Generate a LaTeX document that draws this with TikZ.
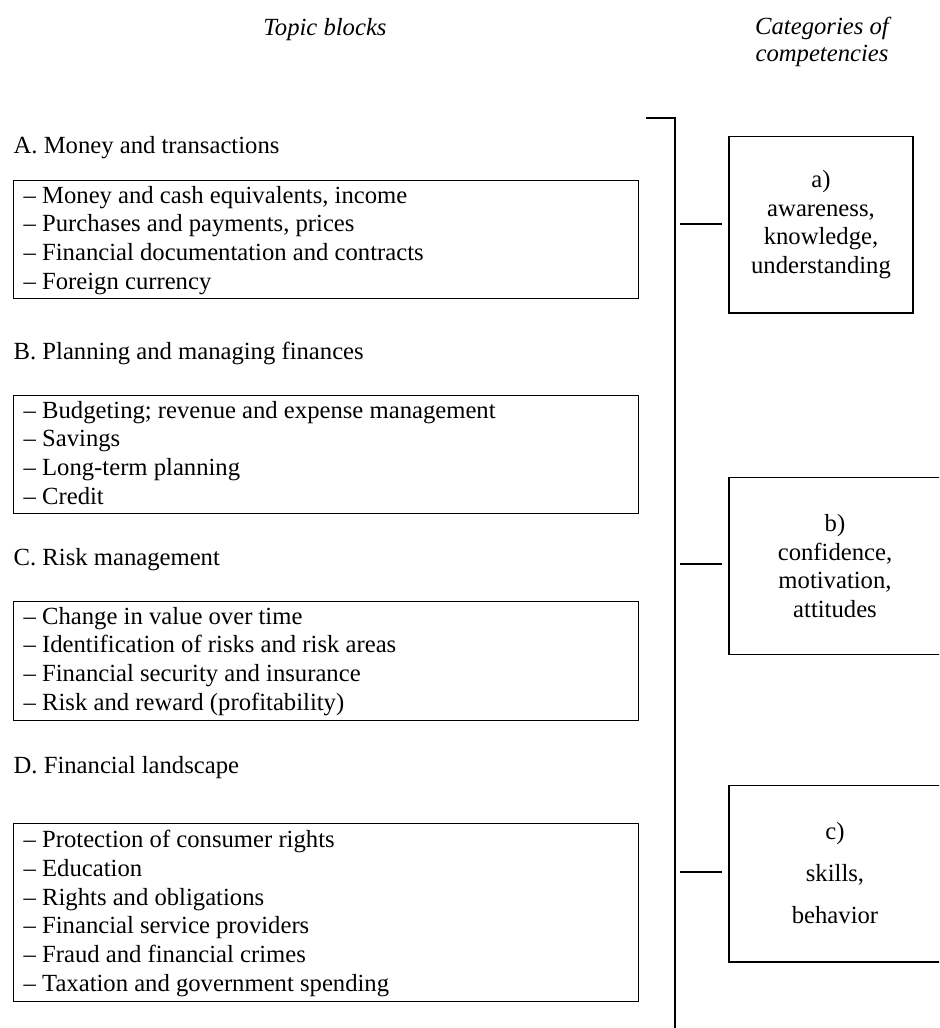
\documentclass[tikz,border=0pt]{standalone}
\usepackage{fontspec}
\setmainfont{Liberation Serif}
\begin{document}
\begin{tikzpicture}[x=0.75pt,y=-0.75pt, line width=1pt,
  every node/.style={font=\fontsize{18.5}{21.5}\selectfont, inner sep=0pt},
  topicbox/.style={draw, anchor=north west, minimum width=468.75pt},
  itemtext/.style={anchor=base west, align=left},
  heading/.style={anchor=base west},
  coltitle/.style={anchor=base, align=center, font=\fontsize{18.5}{20}\selectfont\itshape},
  catbox/.style={draw, align=center, minimum height=132.5pt},
  link/.style={shorten >=4.5pt}]
\useasboundingbox (0,0) rectangle (939,1028);
\clip (0,0) rectangle (939,1028);

% column titles (anchor = baseline of the last line)
\node[coltitle] (ttopic) at (325,35) {Topic blocks};
\node[coltitle] (tcat) at (822,61) {Categories of\\competencies};

% topic blocks (item nodes anchored at the baseline of their last line)
\node[heading] (hA) at (13,153) {A. Money and transactions};
\node[topicbox, minimum height=88.5pt] (boxA) at (13,180) {};
\node[itemtext] (iA) at (23,289) {-- Money and cash equivalents, income\\-- Purchases and payments, prices\\-- Financial documentation and contracts\\-- Foreign currency};

\node[heading] (hB) at (13,359) {B. Planning and managing finances};
\node[topicbox, minimum height=88.5pt] (boxB) at (13,395) {};
\node[itemtext] (iB) at (23,504) {-- Budgeting; revenue and expense management\\-- Savings\\-- Long-term planning\\-- Credit};

\node[heading] (hC) at (13,565) {C. Risk management};
\node[topicbox, minimum height=89.25pt] (boxC) at (13,601) {};
\node[itemtext] (iC) at (23,710) {-- Change in value over time\\-- Identification of risks and risk areas\\-- Financial security and insurance\\-- Risk and reward (profitability)};

\node[heading] (hD) at (13,773) {D. Financial landscape};
\node[topicbox, minimum height=133.5pt] (boxD) at (13,823) {};
\node[itemtext] (iD) at (23,991) {-- Protection of consumer rights\\-- Education\\-- Rights and obligations\\-- Financial service providers\\-- Fraud and financial crimes\\-- Taxation and government spending};

% bracket line
\coordinate (tick) at (646,118);
\coordinate (vtop) at (675,118);
\coordinate (vbot) at (675,1032);
\draw (tick) -- (vtop) -- (vbot);

% categories
\node[catbox, minimum width=138pt] (ca) at (821,224.5) {a)\\awareness,\\knowledge,\\understanding};
\node[catbox, minimum width=159pt] (cb) at (835,566) {b)\\confidence,\\motivation,\\attitudes};
\node[catbox, minimum width=159pt, font=\fontsize{18.5}{31.5}\selectfont] (cc) at (835,873.5) {c)\\skills,\\behavior};

\coordinate (ja) at (680,224);
\coordinate (jb) at (680,564);
\coordinate (jc) at (680,872);
\draw[link] (ja) -- (ca.west |- ja);
\draw[link] (jb) -- (cb.west |- jb);
\draw[link] (jc) -- (cc.west |- jc);
\end{tikzpicture}
\end{document}
